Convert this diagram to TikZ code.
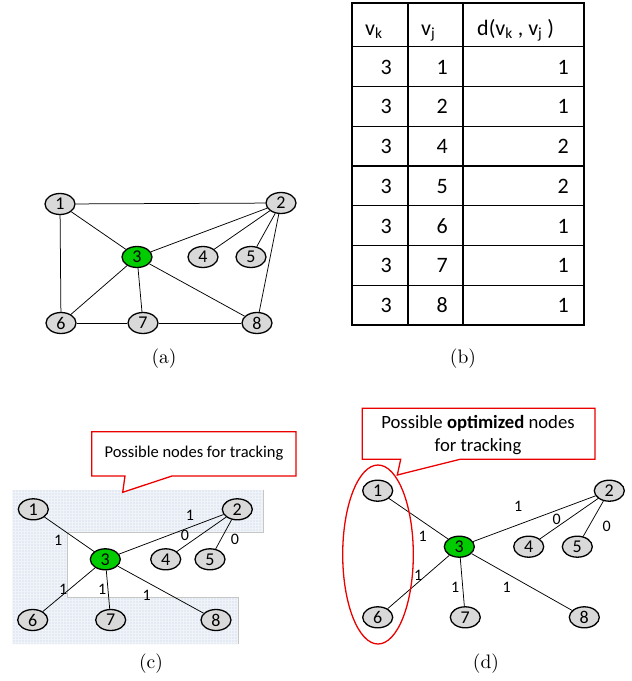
\documentclass[tikz,border=0pt]{standalone}
\usepackage{fontspec}
\newfontfamily\calfont{Carlito}
\newfontfamily\capfont{lmroman10-regular}[Extension=.otf]
\usetikzlibrary{shapes.geometric}
\definecolor{nodegray}{RGB}{217,217,217}
\definecolor{nodegreen}{RGB}{0,204,0}
\definecolor{shadebg}{RGB}{228,234,243}
\definecolor{calred}{RGB}{235,0,0}
\begin{document}
\begin{tikzpicture}[x=1pt,y=-1pt,
  vtx/.style={ellipse, draw, line width=1.3pt, fill=nodegray, minimum width=30pt, minimum height=21pt, inner sep=0pt, font=\calfont\fontsize{18}{18}\selectfont},
  src/.style={vtx, fill=nodegreen},
  edge/.style={line width=0.75pt},
  elab/.style={font=\calfont\fontsize{16}{16}\selectfont, inner sep=0pt},
  tbl/.style={line width=1.3pt},
  ttext/.style={font=\calfont\fontsize{22}{22}\selectfont, inner sep=0pt},
  capt/.style={font=\capfont\fontsize{19.5}{22}\selectfont, inner sep=0pt},
  callout/.style={draw=calred, line width=1.3pt, fill=white},
  ctext/.style={font=\calfont\fontsize{16.5}{22}\selectfont, inner sep=0pt, align=center}
]
\useasboundingbox (0,0) rectangle (632,681);

% ---------- (a) ----------
\node[vtx] (a1) at (60,204) {1};
\node[vtx] (a2) at (281,203) {2};
\node[src] (a3) at (137,257) {3};
\node[vtx] (a4) at (203,257) {4};
\node[vtx] (a5) at (251,257) {5};
\node[vtx] (a6) at (61,323) {6};
\node[vtx] (a7) at (143,323) {7};
\node[vtx] (a8) at (257,323) {8};
\draw[edge] (a1) -- (a2);
\draw[edge] (a1) -- (a3);
\draw[edge] (a1) -- (a6);
\draw[edge] (a2) -- (a3);
\draw[edge] (a2) -- (a4);
\draw[edge] (a2) -- (a5);
\draw[edge] (a2) -- (a8);
\draw[edge] (a3) -- (a6);
\draw[edge] (a3) -- (a7);
\draw[edge] (a3) -- (a8);
\draw[edge] (a6) -- (a7);
\draw[edge] (a7) -- (a8);
\node[capt] (capa) at (164,359) {(a)};

% ---------- (b) table ----------
\draw[tbl] (352,3) rectangle (584,325);
\draw[tbl] (408,3) -- (408,325);
\draw[tbl] (463,3) -- (463,325);
\foreach \yy in {46.7,86.5,126.2,166.0,205.7,245.5,285.2} {\draw[tbl] (352,\yy) -- (584,\yy);}
\node[ttext, anchor=base west] (hk) at (365,35) {v\textsubscript{k}};
\node[ttext, anchor=base west] (hj) at (421,35) {v\textsubscript{j}};
\node[ttext, anchor=base west] (hd) at (477,35) {d(v\textsubscript{k} , v\textsubscript{j} )};
\foreach \i/\vj/\d in {0/1/1,1/2/1,2/4/2,3/5/2,4/6/1,5/7/1,6/8/1} {
  \node[ttext, anchor=base east] (k\i) at (392,{74+39.76*\i}) {3};
  \node[ttext, anchor=base east] (j\i) at (448,{74+39.76*\i}) {\vj};
  \node[ttext, anchor=base east] (d\i) at (569,{74+39.76*\i}) {\d};
}
\node[capt] (capb) at (463,359) {(b)};

% ---------- (c) ----------
\fill[shadebg] (12.7,490) -- (262.7,490) -- (262.7,532) -- (66.7,532) -- (66.7,597) -- (238.3,597) -- (238.3,644) -- (12.7,644) -- cycle;
\begin{scope}
\clip (12.7,490) -- (262.7,490) -- (262.7,532) -- (66.7,532) -- (66.7,597) -- (238.3,597) -- (238.3,644) -- (12.7,644) -- cycle;
\draw[white!45!shadebg, line width=0.4pt, step=3pt] (10,487) grid (265,647);
\end{scope}
\draw[gray!45, line width=0.4pt] (262.7,490) -- (262.7,532) -- (66.7,532) -- (66.7,597) -- (238.3,597) -- (238.3,644);

\draw[callout] (91.7,431.7) -- (296,431.7) -- (296,476) -- (172,476) -- (122.7,492.3) -- (125,476) -- (91.7,476) -- cycle;
\node[ctext] (ct) at (194,453) {Possible nodes for tracking};

\node[vtx] (c1) at (33.3,509.3) {1};
\node[vtx] (c2) at (237.3,509.3) {2};
\node[src] (c3) at (105.3,559.3) {3};
\node[vtx] (c4) at (165.7,559.3) {4};
\node[vtx] (c5) at (210,559.3) {5};
\node[vtx] (c6) at (32.7,620) {6};
\node[vtx] (c7) at (110.7,620) {7};
\node[vtx] (c8) at (216,620) {8};
\draw[edge] (c1) -- (c3);
\draw[edge] (c2) -- (c3);
\draw[edge] (c2) -- (c4);
\draw[edge] (c2) -- (c5);
\draw[edge] (c3) -- (c6);
\draw[edge] (c3) -- (c7);
\draw[edge] (c3) -- (c8);
\node[elab] (cl1) at (190,515) {1};
\node[elab] (cl2) at (185,535) {0};
\node[elab] (cl3) at (235,539.3) {0};
\node[elab] (cl4) at (58.3,540) {1};
\node[elab] (cl5) at (63.3,589.3) {1};
\node[elab] (cl6) at (102.3,589.3) {1};
\node[elab] (cl7) at (146.7,595) {1};
\node[capt] (capc) at (151,664) {(c)};

% ---------- (d) ----------
\draw[callout] (362.3,408.3) -- (595,408.3) -- (595,459.3) -- (460,459.3) -- (397.3,475) -- (400.7,459.3) -- (362.3,459.3) -- cycle;
\node[ctext, font=\calfont\fontsize{18.7}{22.4}\selectfont] (dt) at (478,435) {Possible \textbf{optimized} nodes\\for tracking};

\node[vtx] (d1) at (377.7,490.7) {1};
\node[vtx] (d2) at (609.3,490.7) {2};
\node[src] (d3) at (459.3,546.7) {3};
\node[vtx] (d4) at (528.7,546.7) {4};
\node[vtx] (d5) at (577.3,546.7) {5};
\node[vtx] (d6) at (377.7,617.3) {6};
\node[vtx] (d7) at (465.3,617.3) {7};
\node[vtx] (d8) at (584.3,617.3) {8};
\draw[edge] (d1) -- (d3);
\draw[edge] (d2) -- (d3);
\draw[edge] (d2) -- (d4);
\draw[edge] (d2) -- (d5);
\draw[edge] (d3) -- (d6);
\draw[edge] (d3) -- (d7);
\draw[edge] (d3) -- (d8);
\node[elab] (dl1) at (518.3,506.7) {1};
\node[elab] (dl2) at (556.7,519.3) {0};
\node[elab] (dl3) at (606.7,526) {0};
\node[elab] (dl4) at (422.7,536) {1};
\node[elab] (dl5) at (418.3,575) {1};
\node[elab] (dl6) at (455.3,587.7) {1};
\node[elab] (dl7) at (506.7,587.7) {1};
\draw[calred, line width=1.3pt] (378,554.5) ellipse [x radius=35.3, y radius=89.5];
\node[capt] (capd) at (486,664) {(d)};
\end{tikzpicture}
\end{document}
